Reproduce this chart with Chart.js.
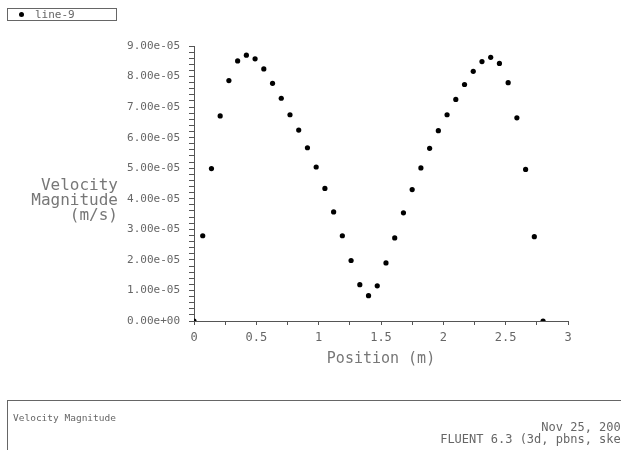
<!DOCTYPE html>
<html>
<head>
<meta charset="utf-8">
<title>Velocity Magnitude</title>
<script src="https://cdn.jsdelivr.net/npm/chart.js@4.4.0/dist/chart.umd.min.js"></script>
<style>
  html, body { margin:0; padding:0; background:#fff; }
  #wrap { position:relative; width:621px; height:450px; overflow:hidden; font-family:"DejaVu Sans Mono", monospace; color:#666; }
  #chart { position:absolute; left:0; top:0; }
  #legend { position:absolute; left:7px; top:8px; width:108px; height:11px; border:1px solid #666; font-size:11px; line-height:11px; }
  #legend .dot { position:absolute; left:11px; top:3px; width:5px; height:5px; border-radius:50%; background:#000; }
  #legend .txt { position:absolute; left:27px; top:0; }
  #ytitle { position:absolute; right:503px; top:177px; text-align:right; font-size:16px; line-height:15px; color:#777; white-space:pre; }
  #footer { position:absolute; left:7px; top:400px; width:640px; height:80px; border:1px solid #666; }
  #footer .l { position:absolute; left:5px; top:11px; font-size:9.5px; }
  #footer .r { position:absolute; right:20px; top:20px; text-align:right; font-size:12px; line-height:12px; white-space:pre; }
</style>
</head>
<body>
<div id="wrap">
  <canvas id="chart" width="621" height="450"></canvas>
  <div id="legend"><span class="dot"></span><span class="txt">line-9</span></div>
  <div id="ytitle">Velocity
Magnitude
(m/s)</div>
  <div id="footer">
    <div class="l">Velocity Magnitude</div>
    <div class="r">Nov 25, 2005
FLUENT 6.3 (3d, pbns, ske)</div>
  </div>
</div>
<script>
// position along line-9 (m)
const positions = [
  0, 0.07, 0.14, 0.21, 0.28, 0.35, 0.42, 0.49, 0.56, 0.63,
  0.70, 0.77, 0.84, 0.91, 0.98, 1.05, 1.12, 1.19, 1.26, 1.33,
  1.40, 1.47, 1.54, 1.61, 1.68, 1.75, 1.82, 1.89, 1.96, 2.03,
  2.10, 2.17, 2.24, 2.31, 2.38, 2.45, 2.52, 2.59, 2.66, 2.73, 2.80
];
// velocity magnitude (m/s)
const velocity = [
  0, 2.79e-5, 4.99e-5, 6.71e-5, 7.87e-5, 8.51e-5, 8.70e-5, 8.58e-5, 8.25e-5, 7.78e-5,
  7.29e-5, 6.75e-5, 6.25e-5, 5.67e-5, 5.04e-5, 4.34e-5, 3.57e-5, 2.79e-5, 1.98e-5, 1.19e-5,
  0.83e-5, 1.15e-5, 1.90e-5, 2.72e-5, 3.54e-5, 4.30e-5, 5.01e-5, 5.65e-5, 6.23e-5, 6.75e-5,
  7.25e-5, 7.74e-5, 8.17e-5, 8.49e-5, 8.63e-5, 8.43e-5, 7.80e-5, 6.65e-5, 4.96e-5, 2.76e-5, 0
];
const xMajor = [0, 0.5, 1, 1.5, 2, 2.5, 3];
const yMajor = [0, 1e-5, 2e-5, 3e-5, 4e-5, 5e-5, 6e-5, 7e-5, 8e-5, 9e-5];

const points = positions.map((x, i) => ({ x, y: velocity[i] }));

function fmtExp(v){
  const [m, e] = v.toExponential(2).split("e");
  const sign = e[0];
  const digits = e.slice(1).padStart(2, "0");
  return `${m}e${sign}${digits}`;
}
function isMajor(v, list, tol){
  return list.find(t => Math.abs(t - v) < tol);
}

const axisColor = "#555";
const tickFontY = { family: "DejaVu Sans Mono", size: 11 };
const tickFontX = { family: "DejaVu Sans Mono", size: 12 };

new Chart(document.getElementById("chart").getContext("2d"), {
  type: "scatter",
  data: {
    datasets: [{
      label: "line-9",
      data: points,
      backgroundColor: "#000",
      borderColor: "#000",
      pointRadius: 2.6,
      pointHoverRadius: 2.6,
      borderWidth: 0
    }]
  },
  options: {
    responsive: false,
    animation: false,
    layout: { padding: { left: 0, right: 53, top: 46, bottom: 0 } },
    plugins: { legend: { display: false }, tooltip: { enabled: false } },
    scales: {
      x: {
        type: "linear",
        min: 0, max: 3,
        border: { color: axisColor, width: 1 },
        grid: { drawOnChartArea: false, color: axisColor, tickLength: 4 },
        ticks: {
          stepSize: 0.25,
          autoSkip: false,
          maxRotation: 0,
          padding: 6,
          color: "#666",
          font: tickFontX,
          callback: v => {
            const m = isMajor(v, xMajor, 1e-6);
            return m === undefined ? "" : String(m);
          }
        },
        title: {
          display: true,
          text: "Position (m)",
          color: "#777",
          font: { family: "DejaVu Sans Mono", size: 15 },
          padding: { top: 0, bottom: 82 }
        },
        afterFit: s => { s.height = 129; }
      },
      y: {
        type: "linear",
        min: 0, max: 9e-5,
        border: { color: axisColor, width: 1 },
        grid: { drawOnChartArea: false, color: axisColor, tickLength: 5 },
        ticks: {
          stepSize: 2e-6,
          autoSkip: false,
          maxTicksLimit: 100,
          padding: 9,
          color: "#666",
          font: tickFontY,
          callback: v => {
            const m = isMajor(v, yMajor, 1e-9);
            return m === undefined ? "" : fmtExp(m);
          }
        },
        afterFit: s => { s.width = 194; }
      }
    }
  }
});
</script>
</body>
</html>
